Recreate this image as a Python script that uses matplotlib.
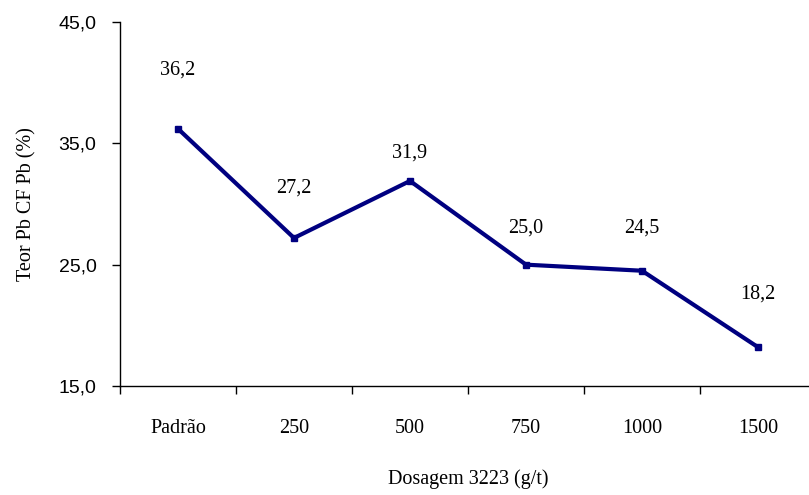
import matplotlib
matplotlib.use('Agg')
import matplotlib.pyplot as plt
import numpy as np

# Teor de Pb no concentrado final por dosagem
categorias = ['Padrão', '250', '500', '750', '1000', '1500']
teor_pb = [36.2, 27.2, 31.9, 25.0, 24.5, 18.2]
# altura dos rótulos de dados (no eixo y)
pos_rotulos = [41.0, 31.3, 34.2, 28.0, 28.0, 22.6]
y_ticks = [15.0, 25.0, 35.0, 45.0]

serif = 'Liberation Serif'
sans = 'Liberation Sans'

fig = plt.figure(figsize=(8.09, 4.95), dpi=100)
ax = fig.add_axes([120 / 809, 109 / 495, 696 / 809, 364 / 495])

x = np.arange(len(categorias))
ax.plot(x, teor_pb, color='#000080', linewidth=3, marker='s', markersize=5,
        solid_joinstyle='miter')

for xi, v, yl in zip(x, teor_pb, pos_rotulos):
    ax.text(xi, yl, f'{v:.1f}'.replace('.', ','), ha='center', va='center',
            fontsize=14.5, family=serif)

ax.set_xlim(-0.5, len(categorias) - 0.5)
ax.set_ylim(15, 45)

# marcas entre as categorias, rótulos no centro
ax.set_xticks(np.arange(len(categorias) + 1) - 0.5)
ax.set_xticklabels([])
ax.set_xticks(x, minor=True)
ax.set_xticklabels(categorias, minor=True, family=serif, fontsize=14.5)
ax.tick_params(axis='x', which='major', direction='out', length=6, width=1)
ax.tick_params(axis='x', which='minor', length=0, pad=24)

ax.set_yticks(y_ticks)
ax.set_yticklabels([f'{t:.1f}'.replace('.', ',') for t in y_ticks],
                   family=sans, fontsize=14)
ax.tick_params(axis='y', direction='out', length=6, width=1, pad=11)

for s in ['top', 'right']:
    ax.spines[s].set_visible(False)
for s in ['left', 'bottom']:
    ax.spines[s].set_linewidth(1)

ax.set_xlabel('Dosagem 3223 (g/t)', family=serif, fontsize=14.5, labelpad=22)
ax.set_ylabel('Teor Pb CF Pb (%)', family=serif, fontsize=14.5, labelpad=16)

fig.savefig('out.png', dpi=100)
